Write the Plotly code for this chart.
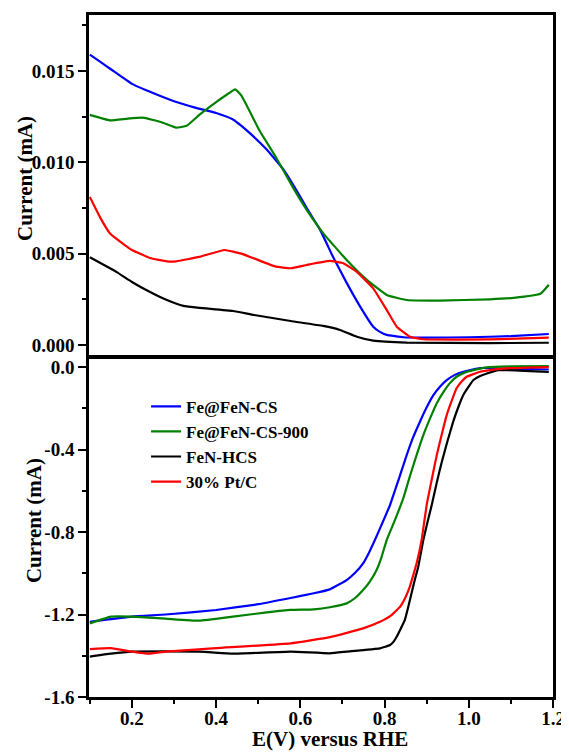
import plotly.graph_objects as go

# ---------------- data ----------------
series_names = ["Fe@FeN-CS", "Fe@FeN-CS-900", "FeN-HCS", "30% Pt/C"]
series_colors = ["#0000FF", "#008000", "#000000", "#FF0000"]

# top panel (ring current, mA)
top_blue_x = [0.1, 0.125, 0.15, 0.175, 0.2, 0.25, 0.3, 0.35, 0.4, 0.44, 0.46, 0.48, 0.52, 0.56, 0.59, 0.615, 0.647, 0.678, 0.71, 0.742, 0.773, 0.79, 0.805, 0.845, 0.9, 1.0, 1.1, 1.19]
top_blue_y = [0.0159, 0.0155, 0.0151, 0.0147, 0.0143, 0.0138, 0.01335, 0.0130, 0.0127, 0.01235, 0.0120, 0.0116, 0.0107, 0.0096, 0.0085, 0.0075, 0.0063, 0.0048, 0.0034, 0.0021, 0.0010, 0.0007, 0.00055, 0.00042, 0.0004, 0.00042, 0.00048, 0.0006]

top_green_x = [0.1, 0.148, 0.19, 0.226, 0.27, 0.305, 0.33, 0.36, 0.4, 0.425, 0.445, 0.46, 0.504, 0.544, 0.583, 0.615, 0.655, 0.71, 0.758, 0.805, 0.853, 0.93, 1.05, 1.107, 1.17, 1.19]
top_green_y = [0.0126, 0.0123, 0.0124, 0.01245, 0.0122, 0.0119, 0.0120, 0.0126, 0.0133, 0.0137, 0.0140, 0.01365, 0.0117, 0.0102, 0.0086, 0.0074, 0.0061, 0.00465, 0.00356, 0.00274, 0.00246, 0.00243, 0.0025, 0.00258, 0.0028, 0.0033]

top_black_x = [0.1, 0.163, 0.2, 0.243, 0.283, 0.322, 0.36, 0.44, 0.49, 0.577, 0.654, 0.694, 0.734, 0.773, 0.853, 1.05, 1.19]
top_black_y = [0.0048, 0.0040, 0.00345, 0.0029, 0.00246, 0.00214, 0.00203, 0.00186, 0.00164, 0.00131, 0.00104, 0.00082, 0.00045, 0.00024, 0.00013, 0.0001, 0.00012]

top_red_x = [0.1, 0.124, 0.148, 0.183, 0.2, 0.243, 0.283, 0.305, 0.36, 0.42, 0.46, 0.49, 0.54, 0.577, 0.615, 0.67, 0.702, 0.734, 0.773, 0.805, 0.829, 0.86, 0.892, 1.05, 1.19]
top_red_y = [0.0081, 0.0070, 0.0061, 0.00547, 0.0052, 0.00476, 0.00458, 0.00458, 0.00482, 0.0052, 0.0050, 0.00474, 0.0043, 0.0042, 0.00438, 0.0046, 0.00447, 0.0040, 0.0031, 0.00192, 0.0010, 0.00045, 0.00031, 0.0003, 0.0004]

# bottom panel (disk current, mA)
bot_blue_x = [0.1, 0.2, 0.28, 0.4, 0.5, 0.577, 0.632, 0.67, 0.71, 0.73, 0.749, 0.763, 0.777, 0.795, 0.813, 0.833, 0.8525, 0.868, 0.884, 0.9, 0.916, 0.932, 0.9475, 0.967, 0.987, 1.027, 1.1, 1.19]
bot_blue_y = [-1.235, -1.21, -1.20, -1.178, -1.15, -1.12, -1.097, -1.078, -1.033, -0.998, -0.952, -0.90, -0.839, -0.755, -0.669, -0.548, -0.427, -0.340, -0.265, -0.195, -0.136, -0.094, -0.063, -0.038, -0.023, -0.005, -0.008, -0.012]

bot_green_x = [0.1, 0.15, 0.2, 0.28, 0.36, 0.44, 0.52, 0.577, 0.632, 0.67, 0.71, 0.73, 0.749, 0.765, 0.781, 0.793, 0.805, 0.825, 0.8445, 0.86, 0.876, 0.892, 0.908, 0.924, 0.94, 0.955, 0.971, 0.99, 1.011, 1.043, 1.1, 1.19]
bot_green_y = [-1.243, -1.21, -1.21, -1.22, -1.23, -1.21, -1.19, -1.178, -1.175, -1.165, -1.146, -1.12, -1.081, -1.04, -0.984, -0.92, -0.839, -0.74, -0.636, -0.53, -0.427, -0.33, -0.249, -0.175, -0.12, -0.078, -0.047, -0.027, -0.015, -0.002, 0.003, 0.005]

bot_black_x = [0.1, 0.15, 0.2, 0.36, 0.44, 0.577, 0.67, 0.71, 0.789, 0.813, 0.822, 0.829, 0.838, 0.848, 0.856, 0.864, 0.872, 0.88, 0.892, 0.902, 0.912, 0.924, 0.936, 0.95, 0.963, 0.975, 0.987, 1.0, 1.011, 1.027, 1.043, 1.07, 1.19]
bot_black_y = [-1.404, -1.39, -1.38, -1.38, -1.39, -1.38, -1.388, -1.38, -1.364, -1.348, -1.33, -1.307, -1.27, -1.227, -1.165, -1.097, -1.03, -0.968, -0.839, -0.752, -0.669, -0.56, -0.459, -0.355, -0.265, -0.195, -0.136, -0.094, -0.063, -0.043, -0.031, -0.015, -0.024]

bot_red_x = [0.1, 0.15, 0.2, 0.24, 0.28, 0.4, 0.577, 0.67, 0.749, 0.789, 0.815, 0.837, 0.85, 0.86, 0.868, 0.876, 0.882, 0.888, 0.9, 0.912, 0.924, 0.936, 0.9475, 0.96, 0.971, 0.983, 0.995, 1.027, 1.05, 1.1, 1.19]
bot_red_y = [-1.368, -1.363, -1.38, -1.39, -1.38, -1.363, -1.34, -1.31, -1.267, -1.235, -1.205, -1.162, -1.115, -1.065, -1.01, -0.952, -0.90, -0.839, -0.669, -0.545, -0.427, -0.325, -0.233, -0.16, -0.103, -0.07, -0.047, -0.023, -0.015, -0.005, 0.0]

x_tick_vals = [0.2, 0.4, 0.6, 0.8, 1.0, 1.2]
x_tick_text = ["0.2", "0.4", "0.6", "0.8", "1.0", "1.2"]
top_tick_vals = [0.0, 0.005, 0.010, 0.015]
top_tick_text = ["0.000", "0.005", "0.010", "0.015"]
bot_tick_vals = [0.0, -0.4, -0.8, -1.2, -1.6]
bot_tick_text = ["0.0", "-0.4", "-0.8", "-1.2", "-1.6"]

x_title = "E(V) versus RHE"
y_title = "Current (mA)"

# ---------------- figure ----------------
FONT = "Liberation Serif"
fig = go.Figure()

top_sets = [(top_blue_x, top_blue_y), (top_green_x, top_green_y), (top_black_x, top_black_y), (top_red_x, top_red_y)]
bot_sets = [(bot_blue_x, bot_blue_y), (bot_green_x, bot_green_y), (bot_black_x, bot_black_y), (bot_red_x, bot_red_y)]

for (xs, ys), name, col in zip(bot_sets, series_names, series_colors):
    fig.add_trace(go.Scatter(x=xs, y=ys, mode="lines", name=name,
                             line=dict(color=col, width=2.2, shape="spline", smoothing=0.35),
                             xaxis="x", yaxis="y"))
for (xs, ys), name, col in zip(top_sets, series_names, series_colors):
    fig.add_trace(go.Scatter(x=xs, y=ys, mode="lines", name=name, showlegend=False,
                             line=dict(color=col, width=2.2, shape="spline", smoothing=0.35),
                             xaxis="x2", yaxis="y2"))

tickfont = dict(family=FONT, size=19, color="black", weight="bold")
titlefont = dict(family=FONT, size=21, color="black", weight="bold")
axis_common = dict(showline=True, linecolor="black", linewidth=2.5, mirror=True,
                   showgrid=False, zeroline=False, tickfont=tickfont, automargin=False)
tick_common = dict(ticks="outside", ticklen=8, tickwidth=2, tickcolor="black")

# the page body has an 8px margin, so the figure is sized/offset to compensate
fig.update_layout(
    width=561, height=745,
    margin=dict(l=81, r=16, t=7, b=56),
    plot_bgcolor="white", paper_bgcolor="white",
    xaxis=dict(domain=[0, 1], range=[0.098, 1.2], anchor="y",
               tickmode="array", tickvals=x_tick_vals, ticktext=x_tick_text,
               ticklabelstandoff=-6,
               minor=dict(ticks="outside", ticklen=4, tickwidth=2, tickcolor="black", dtick=0.1, tick0=0),
               **tick_common, **axis_common),
    yaxis=dict(domain=[0, 0.4956], range=[-1.6, 0.039], anchor="x",
               tickmode="array", tickvals=bot_tick_vals, ticktext=bot_tick_text,
               minor=dict(ticks="outside", ticklen=4, tickwidth=2, tickcolor="black", dtick=0.2, tick0=0),
               **tick_common, **axis_common),
    xaxis2=dict(domain=[0, 1], range=[0.098, 1.2], anchor="y2", matches="x",
                showticklabels=False, ticks="",
                **axis_common),
    yaxis2=dict(domain=[0.5015, 1], range=[-0.00055, 0.01807], anchor="x2",
                tickmode="array", tickvals=top_tick_vals, ticktext=top_tick_text,
                minor=dict(ticks="outside", ticklen=4, tickwidth=2, tickcolor="black", dtick=0.0025, tick0=0),
                **tick_common, **axis_common),
    legend=dict(x=0.123, y=0.452, xanchor="left", yanchor="top",
                bgcolor="rgba(0,0,0,0)", borderwidth=0,
                font=dict(family=FONT, size=17, color="black", weight="bold"),
                tracegroupgap=0),
    showlegend=True,
    annotations=[
        dict(text=x_title, xref="paper", yref="paper", x=0.52, y=-0.062,
             xanchor="center", yanchor="middle", showarrow=False, font=titlefont),
        dict(text=y_title, xref="paper", yref="paper", x=-0.138, y=0.761, textangle=-90,
             xanchor="center", yanchor="middle", showarrow=False, font=titlefont),
        dict(text=y_title, xref="paper", yref="paper", x=-0.1185, y=0.258, textangle=-90,
             xanchor="center", yanchor="middle", showarrow=False, font=titlefont),
    ],
)

fig.write_html("out.html")
